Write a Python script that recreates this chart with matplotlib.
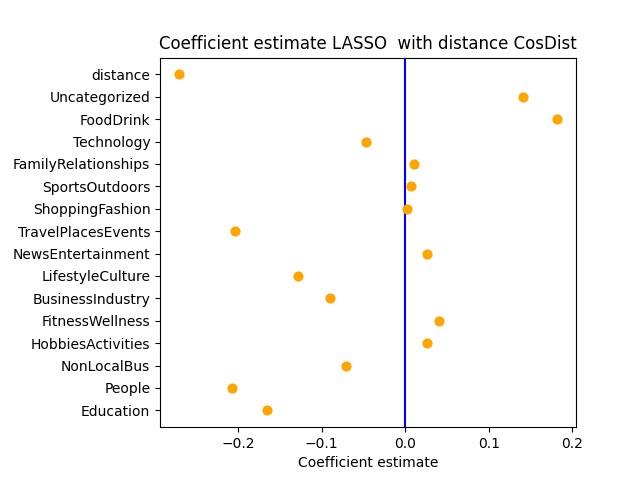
import matplotlib
matplotlib.use("Agg")
import matplotlib.pyplot as plt

features = ['distance', 'Uncategorized', 'FoodDrink', 'Technology', 'FamilyRelationships',
            'SportsOutdoors', 'ShoppingFashion', 'TravelPlacesEvents', 'NewsEntertainment',
            'LifestyleCulture', 'BusinessIndustry', 'FitnessWellness', 'HobbiesActivities',
            'NonLocalBus', 'People', 'Education']
coefs = [-0.271, 0.141, 0.182, -0.047, 0.011, 0.007, 0.002, -0.204, 0.026,
         -0.128, -0.090, 0.041, 0.026, -0.071, -0.208, -0.166]

fig, ax = plt.subplots(figsize=(6.4, 4.8), dpi=100)
fig.subplots_adjust(left=0.25, right=0.9)
ypos = list(range(len(features)))[::-1]
ax.scatter(coefs, ypos, color='orange', s=40, zorder=3)
ax.axvline(0, color='blue')
ax.set_yticks(ypos)
ax.set_yticklabels(features)
ax.set_xlabel('Coefficient estimate')
ax.set_title('Coefficient estimate LASSO  with distance CosDist')
fig.savefig('out.png')
